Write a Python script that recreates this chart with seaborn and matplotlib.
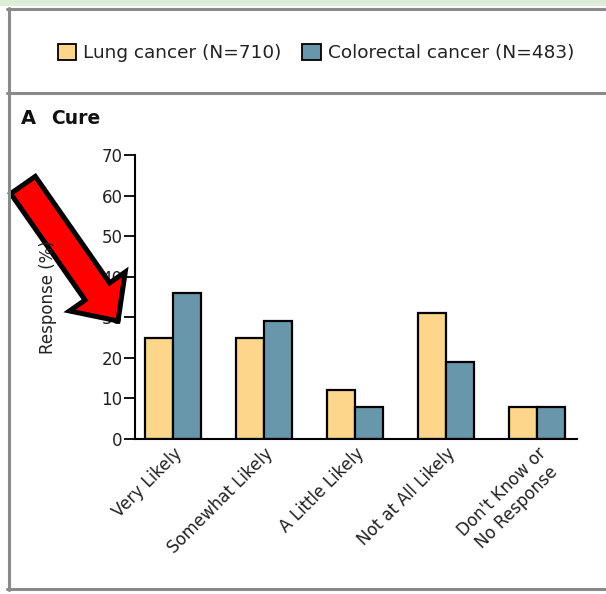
import matplotlib
matplotlib.use("Agg")
import matplotlib.pyplot as plt
import matplotlib.patches as mpatches
from matplotlib.lines import Line2D
from matplotlib.transforms import IdentityTransform
import seaborn as sns
import pandas as pd

categories = ["Very Likely", "Somewhat Likely", "A Little Likely",
              "Not at All Likely", "Don't Know or\nNo Response"]
series_names = ["Lung cancer (N=710)", "Colorectal cancer (N=483)"]
lung = [25, 25, 12, 31, 8]
colorectal = [36, 29, 8, 19, 8]
yticks = [0, 10, 20, 30, 40, 50, 60, 70]
colors = ["#FDD68C", "#6896AA"]

df = pd.DataFrame({
    "category": categories * 2,
    "group": [series_names[0]] * len(categories) + [series_names[1]] * len(categories),
    "value": lung + colorectal,
})

sns.set_style("white")
plt.rcParams["font.family"] = ["DejaVu Sans"]

W, H = 606, 594
fig = plt.figure(figsize=(W / 100, H / 100), dpi=100)
ax = fig.add_axes([135 / W, 1 - 439 / H, (577 - 135) / W, (439 - 155) / H])

sns.barplot(data=df, x="category", y="value", hue="group", order=categories,
            hue_order=series_names, palette=colors, saturation=1, edgecolor="black",
            linewidth=1.6, width=0.62, gap=0, ax=ax, legend=False)

ax.set_xlim(-0.418, 4.44)
ax.set_ylim(0, 70)
ax.set_yticks(yticks)
ax.set_yticklabels([str(t) for t in yticks], fontsize=12, color="#222222")
ax.set_xlabel("")
ax.set_ylabel("")
for s in ["top", "right"]:
    ax.spines[s].set_visible(False)
for s in ["left", "bottom"]:
    ax.spines[s].set_color("black")
    ax.spines[s].set_linewidth(1.5)
ax.tick_params(axis="y", direction="out", length=8, width=1.3, pad=1, left=True, color="black")
ax.tick_params(axis="x", length=0, pad=4)
ax.set_xticks(range(len(categories)))
ax.set_xticklabels(categories, rotation=45, ha="right", rotation_mode="anchor",
                   fontsize=12, color="#222222", multialignment="center")

fig.text(48 / W, 1 - 297 / H, "Response (%)", rotation=90, ha="center", va="center",
         fontsize=12, color="#222222")
fig.text(21 / W, 1 - 118 / H, "A", fontsize=14, fontweight="bold", ha="left", va="center",
         color="#111111")
fig.text(51 / W, 1 - 118 / H, "Cure", fontsize=13.5, fontweight="bold", ha="left", va="center",
         color="#111111")

handles = [mpatches.Patch(facecolor=c, edgecolor="black", linewidth=1.3) for c in colors]
fig.legend(handles, series_names, loc="center", bbox_to_anchor=(316 / W, 1 - 53 / H),
           ncol=2, frameon=False, fontsize=13.3, handlelength=1.0, handleheight=1.0,
           handletextpad=0.4, columnspacing=1.1, labelcolor="#222222")

# frame / decorations
fig.add_artist(mpatches.Rectangle((0, 1 - 6 / H), 1, 6 / H, transform=fig.transFigure,
                                  facecolor="#DCEDD8", edgecolor="none"))
gray = "#8A8A8A"
fig.add_artist(Line2D([8.5 / W, 8.5 / W], [1 - 8 / H, 1 - 590 / H], transform=fig.transFigure,
                      color=gray, linewidth=2.2))
fig.add_artist(Line2D([7 / W, 1], [1 - 9 / H, 1 - 9 / H], transform=fig.transFigure,
                      color=gray, linewidth=2.2))
fig.add_artist(Line2D([7 / W, 1], [1 - 93 / H, 1 - 93 / H], transform=fig.transFigure,
                      color=gray, linewidth=2.2))
fig.add_artist(Line2D([7 / W, 1], [1 - 589 / H, 1 - 589 / H], transform=fig.transFigure,
                      color=gray, linewidth=2.2))

# red arrow annotation
arrow = mpatches.FancyArrow(23, H - 185, 95, -136, width=30, head_width=68, head_length=36,
                            length_includes_head=True, facecolor="#FF0000", edgecolor="black",
                            linewidth=3.6, joinstyle="miter", transform=IdentityTransform())
fig.add_artist(arrow)

fig.savefig("out.png", dpi=100)
